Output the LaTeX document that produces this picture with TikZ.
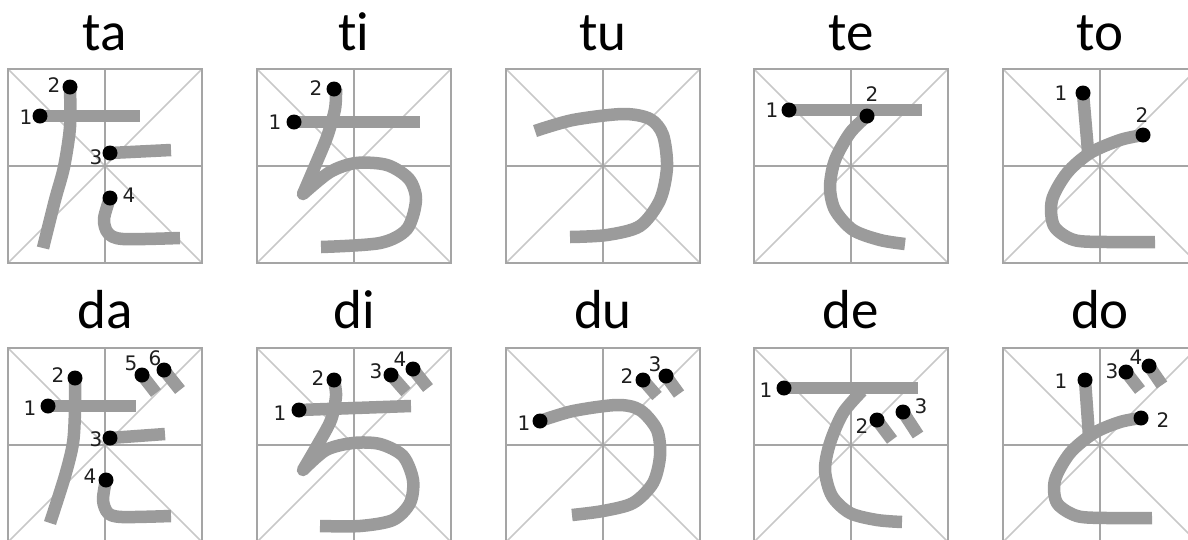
\documentclass[tikz,border=0pt]{standalone}
\usepackage{fontspec}
\newfontfamily\titlefont[Ligatures=NoCommon]{Carlito}
\newfontfamily\numfont{DejaVu Sans}
\definecolor{gridc}{RGB}{165,165,165}
\definecolor{diagc}{RGB}{200,200,200}
\definecolor{stkc}{RGB}{155,155,155}
\definecolor{numc}{RGB}{30,30,30}
\tikzset{
 gridline/.style={draw=gridc, line width=2pt},
 diagline/.style={draw=diagc, line width=1.5pt},
 stk/.style={draw=stkc, line width=12.5pt, line cap=butt, line join=round},
 sdot/.style={circle, fill=black, inner sep=0pt, minimum size=15pt},
 num/.style={font=\numfont\fontsize{20}{20}\selectfont, text=numc, inner sep=0pt},
 ttl/.style={font=\titlefont\fontsize{55}{55}\selectfont, anchor=base, inner sep=0pt},
}
\newcommand\kgrid{%
 \draw[diagline] (0,0)--(194,194) (194,0)--(0,194);
 \draw[gridline] (0,0) rectangle (194,194) (97,0)--(97,194) (0,97)--(194,97);}
\begin{document}
\begin{tikzpicture}[x=1pt,y=-1pt]
\useasboundingbox (0,0) rectangle (1188,539);
\clip (0,0) rectangle (1188,539);
% titles
\node[ttl] (tta) at (105,50) {ta};
\node[ttl] (tti) at (354,50) {t\kern0pt i};
\node[ttl] (ttu) at (603,50) {tu};
\node[ttl] (tte) at (851,50) {te};
\node[ttl] (tto) at (1100,50) {to};
\node[ttl] (tda) at (105,328) {da};
\node[ttl] (tdi) at (354,328) {di};
\node[ttl] (tdu) at (603,328) {du};
\node[ttl] (tde) at (851,328) {de};
\node[ttl] (tdo) at (1100,328) {do};
% ---------- ta ----------
\begin{scope}[shift={(8,69)}]
\kgrid
\draw[stk] (32,47)--(132,47);
\draw[stk] plot[smooth] coordinates {(62,18) (62,58) (56,98) (47,131) (35,179)};
\draw[stk] (102,84)--(163,81);
\draw[stk] plot[smooth] coordinates {(102,129) (96,150) (100,164) (115,170) (172,169)};
\node[sdot] (ta1) at (32,47) {}; \node[num] (tan1) at (18,48) {1};
\node[sdot] (ta2) at (62,18) {}; \node[num] (tan2) at (46,16) {2};
\node[sdot] (ta3) at (102,84) {}; \node[num] (tan3) at (88,88) {3};
\node[sdot] (ta4) at (102,129) {}; \node[num] (tan4) at (121,126) {4};
\end{scope}
% ---------- ti ----------
\begin{scope}[shift={(257,69)}]
\kgrid
\draw[stk] (37,53)--(163,53);
\draw[stk] plot[smooth] coordinates {(79,20) (78,40) (70,68) (58,97) (46,125)}
  -- plot[smooth] coordinates {(46,125) (73,103) (99,94) (130,96) (152,110) (159,131) (150,160) (123,174) (64,178)};
\node[sdot] (ti1) at (37,53) {}; \node[num] (tin1) at (18,53) {1};
\node[sdot] (ti2) at (77,20) {}; \node[num] (tin2) at (59,19) {2};
\end{scope}
% ---------- tu ----------
\begin{scope}[shift={(506,69)}]
\kgrid
\draw[stk] plot[smooth] coordinates {(29,62) (67,51) (117,45) (144,50) (157,66) (161,98) (154,131) (134,157) (101,166) (64,168)};
\end{scope}
% ---------- te ----------
\begin{scope}[shift={(754,69)}]
\kgrid
\draw[stk] (35,41)--(168,41);
\draw[stk] plot[smooth] coordinates {(113,47) (96,64) (81,91) (76,118) (81,141) (99,161) (126,171) (151,175)};
\node[sdot] (te1) at (35,41) {}; \node[num] (ten1) at (18,41) {1};
\node[sdot] (te2) at (113,47) {}; \node[num] (ten2) at (118,25) {2};
\end{scope}
% ---------- to ----------
\begin{scope}[shift={(1003,69)}]
\kgrid
\draw[stk] (80,24)--(85,82);
\draw[stk] plot[smooth] coordinates {(140,66) (117,71) (87,84) (64,104) (49,131) (51,157) (71,171) (104,173) (152,173)};
\node[sdot] (to1) at (80,24) {}; \node[num] (ton1) at (58,24) {1};
\node[sdot] (to2) at (140,66) {}; \node[num] (ton2) at (139,46) {2};
\end{scope}
% ---------- da ----------
\begin{scope}[shift={(8,348)}]
\kgrid
\draw[stk] (40,58)--(128,58);
\draw[stk] plot[smooth] coordinates {(67,30) (67,62) (65,95) (57,128) (42,175)};
\draw[stk] (102,90)--(157,86);
\draw[stk] plot[smooth] coordinates {(98,132) (95,152) (100,165) (114,169) (163,168)};
\draw[stk] (134,27)--(148,45);
\draw[stk] (156,22)--(172,42);
\node[sdot] (da1) at (40,58) {}; \node[num] (dan1) at (22,60) {1};
\node[sdot] (da2) at (67,30) {}; \node[num] (dan2) at (50,27) {2};
\node[sdot] (da3) at (102,90) {}; \node[num] (dan3) at (88,91) {3};
\node[sdot] (da4) at (98,132) {}; \node[num] (dan4) at (82,128) {4};
\node[sdot] (da5) at (134,27) {}; \node[num] (dan5) at (123,15) {5};
\node[sdot] (da6) at (156,22) {}; \node[num] (dan6) at (147,10) {6};
\end{scope}
% ---------- di ----------
\begin{scope}[shift={(257,348)}]
\kgrid
\draw[stk] (42,62)--(154,58);
\draw[stk] plot[smooth] coordinates {(77,32) (79,48) (74,72) (60,98) (46,122)}
  -- plot[smooth] coordinates {(46,122) (69,102) (96,95) (123,96) (146,108) (156,132) (153,155) (136,172) (103,178) (63,178)};
\draw[stk] (134,27)--(149,44);
\draw[stk] (156,21)--(171,40);
\node[sdot] (di1) at (42,62) {}; \node[num] (din1) at (23,65) {1};
\node[sdot] (di2) at (77,32) {}; \node[num] (din2) at (61,30) {2};
\node[sdot] (di3) at (134,27) {}; \node[num] (din3) at (119,23) {3};
\node[sdot] (di4) at (156,21) {}; \node[num] (din4) at (143,11) {4};
\end{scope}
% ---------- du ----------
\begin{scope}[shift={(506,348)}]
\kgrid
\draw[stk] plot[smooth] coordinates {(34,73) (67,63) (111,57) (134,62) (151,82) (154,108) (147,135) (127,155) (97,163) (66,167)};
\draw[stk] (137,32)--(151,48);
\draw[stk] (160,28)--(173,46);
\node[sdot] (du1) at (34,73) {}; \node[num] (dun1) at (18,75) {1};
\node[sdot] (du2) at (137,32) {}; \node[num] (dun2) at (121,28) {2};
\node[sdot] (du3) at (160,28) {}; \node[num] (dun3) at (149,16) {3};
\end{scope}
% ---------- de ----------
\begin{scope}[shift={(754,348)}]
\kgrid
\draw[stk] (30,40)--(164,40);
\draw[stk] plot[smooth] coordinates {(108,43) (89,65) (76,95) (71,122) (78,148) (96,165) (123,172) (148,174)};
\draw[stk] (123,72)--(138,92);
\draw[stk] (149,64)--(164,87);
\node[sdot] (de1) at (30,40) {}; \node[num] (den1) at (12,42) {1};
\node[sdot] (de2) at (123,72) {}; \node[num] (den2) at (108,78) {2};
\node[sdot] (de3) at (149,64) {}; \node[num] (den3) at (167,58) {3};
\end{scope}
% ---------- do ----------
\begin{scope}[shift={(1003,348)}]
\kgrid
\draw[stk] (82,32)--(86,88);
\draw[stk] plot[smooth] coordinates {(138,70) (117,74) (91,85) (67,105) (52,132) (54,155) (74,168) (104,170) (149,170)};
\draw[stk] (123,24)--(137,42);
\draw[stk] (146,18)--(159,37);
\node[sdot] (do1) at (82,32) {}; \node[num] (don1) at (58,33) {1};
\node[sdot] (do2) at (138,70) {}; \node[num] (don2) at (160,72) {2};
\node[sdot] (do3) at (123,24) {}; \node[num] (don3) at (109,23) {3};
\node[sdot] (do4) at (146,18) {}; \node[num] (don4) at (133,9) {4};
\end{scope}
\end{tikzpicture}
\end{document}
